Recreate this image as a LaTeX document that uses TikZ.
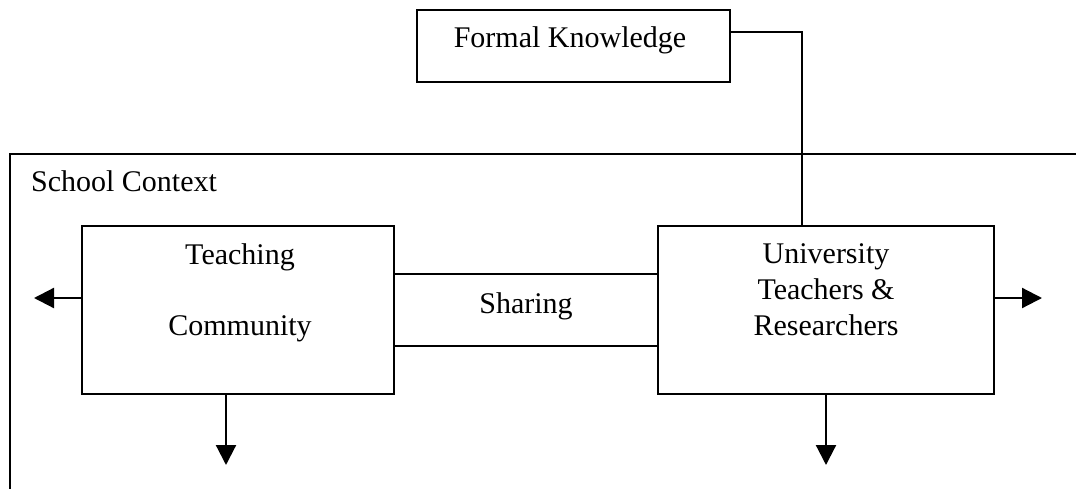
\documentclass[tikz,border=0pt]{standalone}
\usepackage{fontspec}
\setmainfont{Liberation Serif}
\usetikzlibrary{arrows.meta}
\begin{document}
\begin{tikzpicture}[x=1pt,y=-1pt,
  line width=2.2pt,
  boxshape/.style={draw=black, line width=2.2pt, rectangle, inner sep=0pt},
  lbl/.style={font=\fontsize{30}{36}\selectfont, inner sep=0pt, anchor=base, align=center},
  arr/.style={-{Triangle[length=20pt,width=20pt]}, line width=2.2pt}]
\useasboundingbox (0,0) rectangle (1076,489);
% school context frame
\coordinate (scb) at (10,489);
\coordinate (sctl) at (10,154);
\coordinate (sctr) at (1076,154);
\draw (scb) -- (sctl) -- (sctr);
\node[lbl, anchor=base west] (sct) at (30,192) {School Context};
% boxes
\node[boxshape, minimum width=313pt, minimum height=72pt] (fk) at (573.5,46) {};
\node[lbl] (fkt) at (570,48) {Formal Knowledge};
\node[boxshape, minimum width=312pt, minimum height=168pt] (tc) at (238,310) {};
\node[lbl] (tct) at (240,335) {Teaching\\[35pt]Community};
\node[boxshape, minimum width=336pt, minimum height=168pt] (ut) at (826,310) {};
\node[lbl] (utt) at (826,335) {University\\Teachers \&\\Researchers};
% sharing
\draw ([yshift=-36pt]tc.east) -- ([yshift=-36pt]tc.east -| ut.west);
\draw ([yshift=36pt]tc.east) -- ([yshift=36pt]tc.east -| ut.west);
\node[lbl] (sh) at (526,313) {Sharing};
% formal knowledge link
\draw ([yshift=-23pt]fk.north east) -| ([xshift=-24pt]ut.north);
% arrows
\coordinate (la) at (34,298);
\coordinate (ra) at (1042,298);
\coordinate (tda) at (226,465);
\coordinate (uda) at (826,465);
\draw[arr] ([yshift=12pt]tc.west) -- (la);
\draw[arr] ([yshift=12pt]ut.east) -- (ra);
\draw[arr] ([xshift=-12pt]tc.south) -- (tda);
\draw[arr] (ut.south) -- (uda);
\end{tikzpicture}
\end{document}
